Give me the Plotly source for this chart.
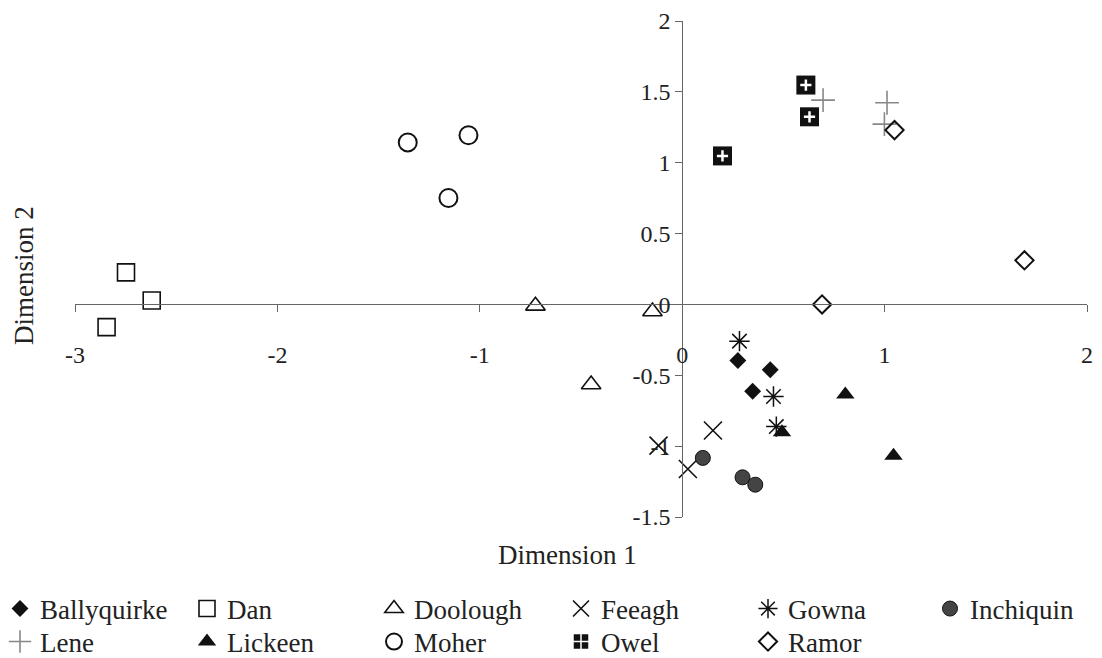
import plotly.graph_objects as go

# ---- data ----
ballyquirke_x = [0.275, 0.435, 0.348]
ballyquirke_y = [-0.396, -0.461, -0.613]
dan_x = [-2.748, -2.844, -2.621]
dan_y = [0.226, -0.160, 0.028]
doolough_x = [-0.725, -0.147, -0.450]
doolough_y = [-0.010, -0.050, -0.565]
feeagh_x = [-0.117, 0.152, 0.028]
feeagh_y = [-0.996, -0.890, -1.161]
gowna_x = [0.283, 0.451, 0.465]
gowna_y = [-0.259, -0.650, -0.862]
inchiquin_x = [0.102, 0.298, 0.361]
inchiquin_y = [-1.083, -1.220, -1.272]
lene_x = [0.696, 1.012, 0.999]
lene_y = [1.442, 1.423, 1.272]
lickeen_x = [0.806, 0.493, 1.044]
lickeen_y = [-0.636, -0.902, -1.067]
moher_x = [-1.356, -1.056, -1.155]
moher_y = [1.143, 1.194, 0.751]
owel_x = [0.611, 0.629, 0.199]
owel_y = [1.548, 1.324, 1.048]
ramor_x = [1.049, 0.691, 1.691]
ramor_y = [1.230, 0.000, 0.311]

x_tickvals = [-3, -2, -1, 0, 1, 2]
x_ticktext = ["-3", "-2", "-1", "0", "1", "2"]
y_tickvals = [-1.5, -1, -0.5, 0, 0.5, 1, 1.5, 2]
y_ticktext = ["-1.5", "-1", "-0.5", "0", "0.5", "1", "1.5", "2"]

FONT = "Liberation Serif, Times New Roman, serif"
BLACK = "#111111"
TXT = "#222222"

series = [
    ("Ballyquirke", ballyquirke_x, ballyquirke_y,
     dict(symbol="diamond", size=13, color=BLACK, line=dict(width=0)), "legend"),
    ("Dan", dan_x, dan_y,
     dict(symbol="square-open", size=17, color=BLACK, line=dict(width=1.6)), "legend"),
    ("Doolough", doolough_x, doolough_y,
     dict(symbol="triangle-up-open", size=17, color=BLACK, line=dict(width=1.6)), "legend"),
    ("Feeagh", feeagh_x, feeagh_y,
     dict(symbol="x-thin-open", size=18, color=BLACK, line=dict(width=1.6, color=BLACK)), "legend"),
    ("Gowna", gowna_x, gowna_y,
     dict(symbol="asterisk-open", size=17, color=BLACK, line=dict(width=1.5, color=BLACK)), "legend"),
    ("Inchiquin", inchiquin_x, inchiquin_y,
     dict(symbol="circle", size=15, color="#444444", line=dict(width=1, color=BLACK)), "legend3"),
    ("Lene", lene_x, lene_y,
     dict(symbol="cross-thin-open", size=17, color="#888888", line=dict(width=1.6, color="#888888")), "legend2"),
    ("Lickeen", lickeen_x, lickeen_y,
     dict(symbol="triangle-up", size=16, color=BLACK, line=dict(width=0)), "legend2"),
    ("Moher", moher_x, moher_y,
     dict(symbol="circle-open", size=18, color=BLACK, line=dict(width=2)), "legend2"),
    ("Owel", owel_x, owel_y,
     dict(symbol="square-cross", size=18, color=BLACK, line=dict(width=1.5, color="white")), "legend2"),
    ("Ramor", ramor_x, ramor_y,
     dict(symbol="diamond-open", size=14, color=BLACK, line=dict(width=2)), "legend2"),
]

fig = go.Figure()
for name, xs, ys, mk, lg in series:
    fig.add_trace(go.Scatter(x=xs, y=ys, mode="markers", name=name,
                             marker=mk, legend=lg))

# Owel in the plot: solid black square with a smaller white plus on top
fig.add_trace(go.Scatter(x=owel_x, y=owel_y, mode="markers", showlegend=False,
                         marker=dict(symbol="square", size=19, color=BLACK,
                                     line=dict(width=0)), hoverinfo="skip"))
fig.add_trace(go.Scatter(x=owel_x, y=owel_y, mode="markers", showlegend=False,
                         marker=dict(symbol="cross-thin-open", size=8, color="white",
                                     line=dict(width=2.5, color="white")),
                         hoverinfo="skip"))

axis_common = dict(showgrid=False, zeroline=False, showline=True,
                   linecolor="#666666", linewidth=1, ticks="outside",
                   ticklen=7, tickcolor="#666666", tickwidth=1, automargin=False,
                   tickfont=dict(family=FONT, size=24, color=TXT))


def legend_row(x_px, y_px):
    return dict(orientation="h", xref="container", yref="container",
                x=x_px / 1102, y=1 - y_px / 658, xanchor="left", yanchor="middle",
                entrywidth=142, entrywidthmode="pixels",
                font=dict(family=FONT, size=27, color=TXT),
                bgcolor="rgba(0,0,0,0)", tracegroupgap=0)


fig.update_layout(
    width=1102, height=658,
    margin=dict(l=75, r=15, t=21, b=141, autoexpand=False),
    paper_bgcolor="white", plot_bgcolor="white",
    font=dict(family=FONT, size=24, color=TXT),
    xaxis=dict(range=[-3, 2], tickvals=x_tickvals, ticktext=x_ticktext,
               anchor="free", position=1.5 / 3.5, ticklabelstandoff=22,
               **axis_common),
    yaxis=dict(range=[-1.5, 2], tickvals=y_tickvals, ticktext=y_ticktext,
               anchor="free", position=0.6, **axis_common),
    legend=legend_row(0, 609),
    legend2=legend_row(0, 642),
    legend3=legend_row(930, 609),
    annotations=[
        dict(text="Dimension 1", xref="paper", yref="paper", x=0.487, y=-0.0766,
             showarrow=False, xanchor="center", yanchor="middle",
             font=dict(family=FONT, size=27, color=TXT)),
        dict(text="Dimension 2", xref="paper", yref="paper", x=-0.0504, y=0.488,
             showarrow=False, xanchor="center", yanchor="middle", textangle=-90,
             font=dict(family=FONT, size=27, color=TXT)),
    ],
    showlegend=True,
)

fig.write_html("out.html", config={"displayModeBar": False},
               post_script="document.body.style.margin='0';")
